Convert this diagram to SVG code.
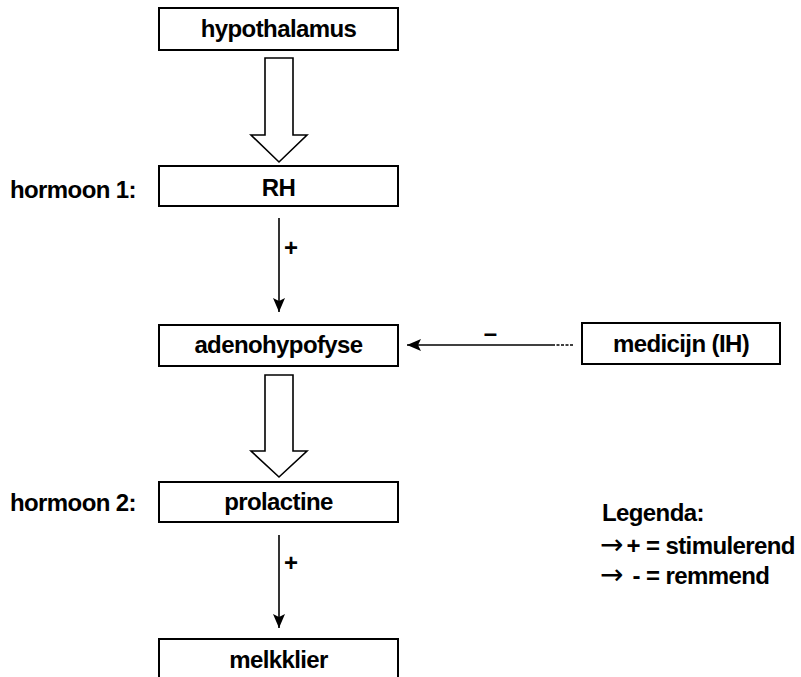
<svg xmlns="http://www.w3.org/2000/svg" width="801" height="677" viewBox="0 0 801 677">
<defs>
<style>
.box{fill:#fff;stroke:#000;stroke-width:2}
.t{font-family:"Liberation Sans",Arial,sans-serif;font-weight:bold;font-size:24px;letter-spacing:-0.6px;fill:#000}
.c{text-anchor:middle}
.ar{font-family:"DejaVu Sans",sans-serif;font-weight:normal;font-size:28px;letter-spacing:0}
.hollow{fill:#fff;stroke:#000;stroke-width:1.6;stroke-linejoin:miter}
.line{stroke:#000;stroke-width:1.6;fill:none}
</style>
<marker id="ah" viewBox="0 0 14 12" refX="14" refY="6" markerWidth="14" markerHeight="12" markerUnits="userSpaceOnUse" orient="auto">
<path d="M0,0 L14,6 L0,12 L3,6 Z" fill="#000"/>
</marker>
</defs>
<rect width="801" height="677" fill="#fff"/>
<g id="hypothalamus"><rect class="box" x="159" y="8" width="239" height="42"/><text class="t c" x="278.5" y="37">hypothalamus</text></g>
<g id="rh"><rect class="box" x="159" y="166" width="239" height="40"/><text class="t c" x="278.5" y="196">RH</text></g>
<g id="adenohypofyse"><rect class="box" x="159" y="325" width="239" height="41"/><text class="t c" x="278.5" y="353">adenohypofyse</text></g>
<g id="medicijn"><rect class="box" x="582" y="323" width="198" height="41"/><text class="t c" x="681" y="352">medicijn (IH)</text></g>
<g id="prolactine"><rect class="box" x="159" y="482" width="239" height="40"/><text class="t c" x="278.5" y="510">prolactine</text></g>
<g id="melkklier"><rect class="box" x="159" y="639" width="239" height="50"/><text class="t c" x="278.5" y="668">melkklier</text></g>
<g id="labels">
<text class="t" x="10" y="198">hormoon 1:</text>
<text class="t" x="10" y="511">hormoon 2:</text>
</g>
<g id="legend">
<text class="t" x="602" y="521">Legenda:</text>
<text class="t" x="600" y="554"><tspan class="ar">→</tspan><tspan dx="3">+ = stimulerend</tspan></text>
<text class="t" x="600" y="584"><tspan class="ar">→</tspan><tspan dx="3"> - = remmend</tspan></text>
</g>
<g id="connectors">
<path class="hollow" d="M265,58 L293,58 L293,135 L307,135 L279,162 L251,135 L265,135 Z"/>
<path class="hollow" d="M265,375 L293,375 L293,451 L307,451 L279,477 L251,451 L265,451 Z"/>
<line class="line" x1="279" y1="218" x2="279" y2="312" marker-end="url(#ah)"/>
<text class="t" x="284" y="256">+</text>
<line class="line" x1="279" y1="535" x2="279" y2="628" marker-end="url(#ah)"/>
<text class="t" x="284" y="571">+</text>
<line class="line" x1="553" y1="345" x2="407" y2="345" marker-end="url(#ah)"/>
<line class="line" x1="573" y1="345" x2="553" y2="345" stroke-dasharray="3,1.5"/>
<text class="t c" x="490" y="341">–</text>
</g>
</svg>
